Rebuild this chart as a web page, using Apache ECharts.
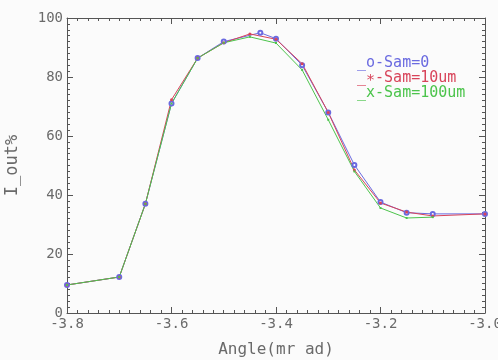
<!DOCTYPE html>
<html>
<head>
<meta charset="utf-8">
<script src="https://cdn.jsdelivr.net/npm/echarts@6/dist/echarts.min.js"></script>
<style>
    html, body {margin: 0; padding: 0; background: #fbfbfb;}
    #chart {width: 498px; height: 360px;}
</style>
</head>
<body>
<div id="chart"></div>
<script>
    // angle (mrad) and I_out% per sample
    const angleSam0 = [-3.8, -3.7, -3.65, -3.6, -3.55, -3.5, -3.43, -3.4, -3.35, -3.3, -3.25, -3.2, -3.15, -3.1, -3.0];
    const iSam0 = [9.5, 12.2, 37, 71, 86.4, 92, 95, 93, 84, 68, 50.2, 37.6, 34, 33.6, 33.6];
    const angleSam10 = [-3.8, -3.7, -3.65, -3.6, -3.55, -3.5, -3.45, -3.4, -3.35, -3.3, -3.25, -3.2, -3.15, -3.1, -3.0];
    const iSam10 = [9.5, 12.2, 37, 72.3, 86.4, 91.6, 94.6, 92.8, 84.5, 68, 48.5, 37.3, 34.2, 32.9, 33.6];
    const angleSam100 = [-3.8, -3.7, -3.65, -3.6, -3.55, -3.5, -3.45, -3.4, -3.35, -3.3, -3.25, -3.2, -3.15, -3.1];
    const iSam100 = [9.5, 12.2, 37, 71, 86.4, 91.6, 93.6, 91.5, 82.4, 65.5, 48, 35.6, 32.2, 32.5];
    const legendNames = ['_o-Sam=0', '_\u2217-Sam=10um', '_x-Sam=100um'];
    const colors = ['#6a6ae0', '#d8445a', '#4cc44c'];

    const pairs = (xs, ys) => xs.map((x, i) => [x, ys[i]]);

    const axisColor = '#555';
    const textColor = '#6a6a6a';
    const font = 'DejaVu Sans Mono';

    // fresh objects for every axis
    const makeAxis = (min, max, interval, position, extra) => Object.assign({
        type: 'value', min: min, max: max, interval: interval, position: position,
        axisLine: {show: true, onZero: false, lineStyle: {color: axisColor, width: 1}},
        axisTick: {show: true, inside: true, length: 6, lineStyle: {color: axisColor, width: 1}},
        minorTick: {show: true, splitNumber: 10, length: 3, lineStyle: {color: axisColor, width: 1}},
        splitLine: {show: false},
        axisLabel: {show: false},
    }, extra || {});

    const myChart = echarts.init(document.getElementById('chart'));
    myChart.setOption({
        backgroundColor: '#fbfbfb',
        animation: false,
        grid: {left: 67, right: 13, top: 18, bottom: 47, outerBoundsMode: 'none'},
        xAxis: [
            makeAxis(-3.8, -3.0, 0.2, 'bottom', {
                name: 'Angle(mr ad)', nameLocation: 'middle', nameGap: 29,
                nameTextStyle: {color: textColor, fontFamily: font, fontSize: 16},
                axisLabel: {show: true, color: textColor, fontFamily: font, fontSize: 14, margin: 4,
                    formatter: v => v.toFixed(1)},
            }),
            makeAxis(-3.8, -3.0, 0.2, 'top'),
        ],
        yAxis: [
            makeAxis(0, 100, 20, 'left', {
                name: 'I_out%', nameLocation: 'middle', nameGap: 46,
                nameTextStyle: {color: textColor, fontFamily: font, fontSize: 17},
                axisLabel: {show: true, color: textColor, fontFamily: font, fontSize: 14, margin: 4},
            }),
            makeAxis(0, 100, 20, 'right'),
        ],
        legend: {
            orient: 'vertical', left: 347, top: 51, itemGap: 0,
            itemWidth: 0, itemHeight: 0, icon: 'none',
            data: legendNames.map((n, i) => ({name: n, textStyle: {color: colors[i]}})),
            textStyle: {fontFamily: font, fontSize: 15, padding: 0},
        },
        series: [
            {name: legendNames[0], type: 'line', data: pairs(angleSam0, iSam0), color: colors[0],
                symbol: 'emptyCircle', symbolSize: 4, lineStyle: {width: 1}},
            {name: legendNames[1], type: 'line', data: pairs(angleSam10, iSam10), color: colors[1],
                symbol: 'circle', symbolSize: 3, lineStyle: {width: 1}},
            {name: legendNames[2], type: 'line', data: pairs(angleSam100, iSam100), color: colors[2],
                symbol: 'rect', symbolSize: 2, lineStyle: {width: 1}},
        ],
    });
</script>
</body>
</html>
